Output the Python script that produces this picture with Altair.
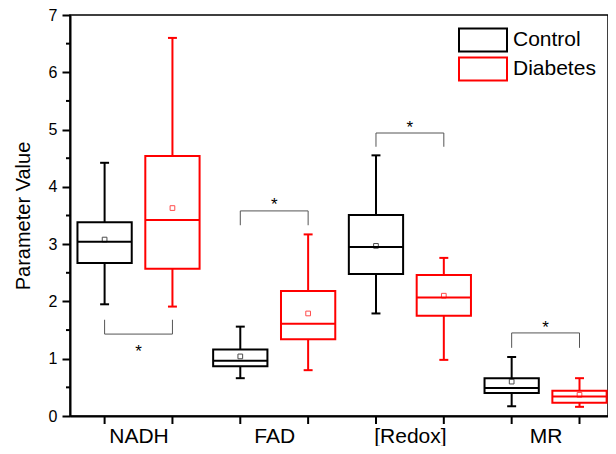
import altair as alt
import pandas as pd

# ---------------- data ----------------
params = ["NADH", "FAD", "[Redox]", "MR"]
groups = ["Control", "Diabetes"]
group_colors = ["#000000", "#ff0000"]

# box positions along x (Control, Diabetes for each parameter)
box_pos = [1, 2, 3, 4, 5, 6, 7, 8]
box_group = ["Control", "Diabetes"] * 4
whisker_low = [1.95, 1.91, 0.66, 0.80, 1.79, 0.98, 0.17, 0.16]
q1 = [2.67, 2.57, 0.87, 1.34, 2.48, 1.75, 0.40, 0.23]
median = [3.04, 3.42, 0.965, 1.61, 2.95, 2.07, 0.49, 0.34]
q3 = [3.38, 4.54, 1.16, 2.18, 3.51, 2.46, 0.66, 0.44]
whisker_high = [4.42, 6.60, 1.56, 3.17, 4.55, 2.76, 1.03, 0.66]
mean = [3.08, 3.63, 1.04, 1.79, 2.97, 2.10, 0.60, 0.37]

# significance brackets
bracket_left = [1, 3, 5, 7]
bracket_right = [2, 4, 6, 8]
bracket_bar = [1.43, 3.58, 4.94, 1.45]
bracket_end = [1.68, 3.33, 4.70, 1.19]
star_y = [1.19, 3.76, 5.10, 1.61]
star_text = ["*", "*", "*", "*"]

label_pos = [1.5, 3.5, 5.5, 7.5]
y_major = [0, 1, 2, 3, 4, 5, 6, 7]
y_minor = [0.5, 1.5, 2.5, 3.5, 4.5, 5.5, 6.5]

# ---------------- tables ----------------
W, H = 538, 401
HALF = 0.4
CAP = 0.066
FONT = "Liberation Sans"

boxes = pd.DataFrame({
    "pos": box_pos, "group": box_group, "low": whisker_low, "q1": q1,
    "median": median, "q3": q3, "high": whisker_high, "mean": mean,
})
boxes["left"] = boxes["pos"] - HALF
boxes["right"] = boxes["pos"] + HALF

caps = pd.concat([
    boxes[["pos", "group"]].assign(v=boxes["low"]),
    boxes[["pos", "group"]].assign(v=boxes["high"]),
], ignore_index=True)
caps["cl"] = caps["pos"] - CAP
caps["cr"] = caps["pos"] + CAP

brackets = pd.DataFrame({
    "l": bracket_left, "r": bracket_right, "bar": bracket_bar,
    "end": bracket_end, "star": star_y, "txt": star_text,
})
brackets["mid"] = (brackets["l"] + brackets["r"]) / 2
bracket_vert = pd.concat([
    brackets[["bar", "end"]].assign(x=brackets["l"]),
    brackets[["bar", "end"]].assign(x=brackets["r"]),
], ignore_index=True)

ticks_df = pd.DataFrame({"pos": box_pos})
minor_df = pd.DataFrame({"v": y_minor})

xscale = alt.Scale(domain=[0.49, 8.42], nice=False, zero=False)
yscale = alt.Scale(domain=[0, 7], nice=False, zero=False)
cscale = alt.Scale(domain=groups, range=group_colors)

label_expr = " : ".join(
    f"datum.value < {p + 0.5} ? '{n}'" for p, n in zip(label_pos, params)
) + " : ''"

x_axis = alt.Axis(values=label_pos, labelExpr=label_expr, tickSize=0,
                  labelFontSize=21, labelPadding=9, domainWidth=2,
                  domainColor="black", labelColor="black", grid=False,
                  title=None, labelFont=FONT)
y_axis = alt.Axis(values=y_major, tickSize=8, tickWidth=2, tickColor="black",
                  labelFontSize=16, labelPadding=5, domainWidth=2,
                  domainColor="black", labelColor="black", grid=False,
                  title="Parameter Value", titleFontSize=20,
                  titleFontWeight="normal", titlePadding=15, titleColor="black",
                  labelFont=FONT, titleFont=FONT)

# wide rectangular legend swatch (48 x 23 px), drawn to the right of its anchor
legend = alt.Legend(
    title=None, orient="none", legendX=388, legendY=12,
    symbolType="M-1,-0.96L3,-0.96L3,0.96L-1,0.96Z", symbolSize=576,
    symbolStrokeWidth=2, symbolFillColor="white", labelFontSize=21,
    labelFont=FONT, labelColor="black", labelOffset=29, rowPadding=-9, padding=0,
)


def X(field):
    return alt.X(field, type="quantitative", scale=xscale, axis=x_axis)


def Y(field):
    return alt.Y(field, type="quantitative", scale=yscale, axis=y_axis)


STROKE = alt.Stroke("group:N", scale=cscale, legend=legend)

base = alt.Chart(boxes)

whiskers = base.mark_rule(strokeWidth=2).encode(
    x=X("pos"), y=Y("low"), y2="high", stroke=STROKE,
)

cap_marks = alt.Chart(caps).mark_rule(strokeWidth=2).encode(
    x=X("cl"), x2="cr", y=Y("v"), stroke=STROKE,
)

box_rects = base.mark_rect(fill="white", strokeWidth=2).encode(
    x=X("left"), x2="right", y=Y("q1"), y2="q3", stroke=STROKE,
)

medians = base.mark_rule(strokeWidth=2).encode(
    x=X("left"), x2="right", y=Y("median"), stroke=STROKE,
)

means = base.mark_point(shape="square", filled=False, size=22, strokeWidth=1).encode(
    x=X("pos"), y=Y("mean"), stroke=STROKE,
)

br_h = alt.Chart(brackets).mark_rule(color="#555555", strokeWidth=1).encode(
    x=X("l"), x2="r", y=Y("bar"),
)
br_v = alt.Chart(bracket_vert).mark_rule(color="#555555", strokeWidth=1).encode(
    x=X("x"), y=Y("bar"), y2="end",
)
stars = alt.Chart(brackets).mark_text(fontSize=17, font=FONT, baseline="middle", dy=4, color="black").encode(
    x=X("mid"), y=Y("star"), text="txt:N",
)

x_ticks = alt.Chart(ticks_df).mark_rule(color="black", strokeWidth=2).encode(
    x=X("pos"), y=alt.value(H), y2=alt.value(H + 8),
)
y_minor_ticks = alt.Chart(minor_df).mark_rule(color="black", strokeWidth=2).encode(
    y=Y("v"), x=alt.value(-4), x2=alt.value(0),
)

chart = alt.layer(
    whiskers, cap_marks, box_rects, medians, means, br_h, br_v, stars,
    x_ticks, y_minor_ticks,
).properties(
    width=W, height=H,
    autosize=alt.AutoSizeParams(type="none"),
    padding={"left": 62, "top": 7, "right": 0, "bottom": 30},
).configure(
    font=FONT,
).configure_view(
    stroke="black", strokeWidth=1.5,
)

chart.save("out.html", embed_options={"renderer": "svg", "actions": False})
